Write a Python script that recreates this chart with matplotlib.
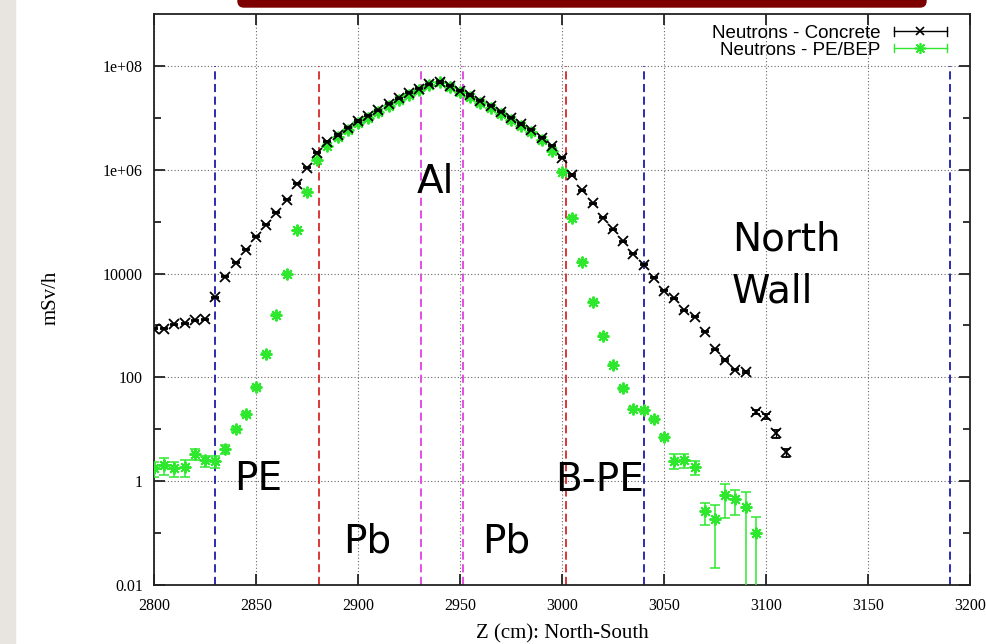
import numpy as np
import matplotlib
matplotlib.use('Agg')
import matplotlib.pyplot as plt
from matplotlib.lines import Line2D
from matplotlib.legend_handler import HandlerBase
from matplotlib.patches import FancyBboxPatch, Rectangle
from matplotlib.transforms import IdentityTransform
from matplotlib.ticker import FixedLocator, FixedFormatter

# Datos (mSv/h frente a Z en cm)
z_concreto = list(range(2800, 3115, 5))
dosis_concreto = [870, 870, 1050, 1100, 1260, 1320, 3470, 8700, 16200, 28800,
                  51300, 87100, 1.48e5, 2.63e5, 5.37e5, 1.10e6, 2.14e6, 3.47e6, 4.68e6, 6.46e6,
                  8.71e6, 1.10e7, 1.41e7, 1.86e7, 2.40e7, 3.02e7, 3.63e7, 4.47e7, 4.90e7, 4.17e7,
                  3.31e7, 2.75e7, 2.14e7, 1.70e7, 1.32e7, 1.00e7, 7.59e6, 5.89e6, 4.17e6, 2.88e6,
                  1.70e6, 7.94e5, 3.98e5, 2.24e5, 1.20e5, 70800, 41700, 24000, 14800, 8300,
                  4680, 3310, 1950, 1480, 760, 347, 214, 141, 126, 21.4,
                  17.8, 8.3, 3.6]
error_concreto = [30, 30, 35, 35, 40, 40, 100, 250, 450, 800,
                  1400, 2400, 4000, 7000, 14000, 28000, 55000, 9e4, 1.2e5, 1.6e5,
                  2.2e5, 2.8e5, 3.5e5, 4.6e5, 6e5, 7.5e5, 9e5, 1.1e6, 1.2e6, 1.0e6,
                  8.3e5, 6.9e5, 5.4e5, 4.3e5, 3.3e5, 2.5e5, 1.9e5, 1.5e5, 1.0e5, 7.2e4,
                  4.3e4, 2.0e4, 1.0e4, 5600, 3000, 1800, 1050, 600, 370, 210,
                  120, 85, 50, 40, 22, 10, 7, 5, 5, 2.0,
                  2.3, 1.5, 0.65]

z_pe = list(range(2800, 3100, 5))
dosis_pe = [1.78, 2.04, 1.78, 1.86, 3.31, 2.51, 2.40, 4.17, 10.0, 19.5,
            64.6, 288, 1620, 10000, 67600, 3.80e5, 1.55e6, 2.88e6, 4.2e6, 5.9e6,
            8.0e6, 1.0e7, 1.3e7, 1.7e7, 2.2e7, 2.8e7, 3.4e7, 4.3e7, 4.8e7, 4.0e7,
            3.1e7, 2.5e7, 1.95e7, 1.55e7, 1.2e7, 9.1e6, 6.9e6, 5.3e6, 3.7e6, 2.3e6,
            9.1e5, 1.2e5, 17000, 2880, 617, 170, 61.7, 25.1, 23.4, 15.5,
            7.1, 2.5, 2.6, 1.86, 0.263, 0.186, 0.537, 0.447, 0.316, 0.1]
error_pe = [0.6, 0.7, 0.6, 0.65, 0.8, 0.6, 0.6, 0.8, 1.2, 1.8,
            4, 12, 50, 250, 1500, 8000, 3e4, 6e4, 8e4, 1.1e5,
            1.5e5, 1.9e5, 2.4e5, 3.1e5, 4e5, 5e5, 6e5, 8e5, 9e5, 7.5e5,
            5.8e5, 4.7e5, 3.7e5, 2.9e5, 2.3e5, 1.7e5, 1.3e5, 1.0e5, 7e4, 4.5e4,
            2e4, 3000, 500, 100, 25, 8, 3.5, 1.7, 1.6, 1.1,
            0.6, 0.8, 0.8, 0.57, 0.12, 0.165, 0.34, 0.22, 0.31, 0.105]

# Limites de capas
limites_z = [2830, 2881, 2931, 2951.5, 3002, 3040, 3190]
colores_limites = ['#1c1ca8', '#d42a2a', '#e040e0', '#e040e0', '#d42a2a', '#1c1ca8', '#1c1ca8']

# Etiquetas de capas (texto, z, dosis)
etiquetas = [('Al', 2928.9, 3.6e5), ('PE', 2839.2, 0.67), ('B-PE', 2996.6, 0.645),
             ('Pb', 2892.6, 0.0431), ('Pb', 2960.8, 0.0431),
             ('North', 3083.3, 2.75e4), ('Wall', 3083.3, 2750)]

ticks_y = [1e-2, 1, 1e2, 1e4, 1e6, 1e8]
ticks_y_menores = [1e-1, 1e1, 1e3, 1e5, 1e7]
etiquetas_y = ['0.01', '1', '100', '10000', '1e+06', '1e+08']
ticks_x = list(range(2800, 3250, 50))

verde = '#2ee82e'


class HandlerGnuplot(HandlerBase):
    def __init__(self, color, marker, ms):
        super().__init__()
        self.color = color
        self.marker = marker
        self.ms = ms

    def create_artists(self, legend, orig_handle, xdescent, ydescent, width, height, fontsize, trans):
        y = (height - ydescent) / 2
        x0, x1 = -xdescent, width - xdescent
        linea = Line2D([x0, x1], [y, y], color=self.color, lw=1.0)
        marca = Line2D([(x0 + x1) / 2], [y], marker=self.marker, ms=self.ms, mew=1.2,
                       color=self.color, linestyle='none')
        cap1 = Line2D([x0, x0], [y - 3, y + 3], color=self.color, lw=1.0)
        cap2 = Line2D([x1, x1], [y - 3, y + 3], color=self.color, lw=1.0)
        for a in (linea, marca, cap1, cap2):
            a.set_transform(trans)
        return [linea, marca, cap1, cap2]


fig = plt.figure(figsize=(9.87, 6.44), dpi=100)
ax = fig.add_axes([154 / 987, 1 - 585 / 644, 816 / 987, 571 / 644])

# fondo
fig.add_artist(Rectangle((0, 0), 15, 644, transform=IdentityTransform(), color='#e8e5e0', zorder=0))
fig.add_artist(FancyBboxPatch((238, 644 - 7), 926 - 238, 40, boxstyle='round,pad=0,rounding_size=6',
                              transform=IdentityTransform(), color='#7d0000', zorder=5))

ax.vlines(limites_z, 0.01, 1e8, colors=colores_limites, linestyles=(0, (4.5, 2.5)), lw=1.3, zorder=2)

ax.errorbar(z_concreto, dosis_concreto, yerr=error_concreto, fmt='x', color='black', ms=7.5, mew=1.3,
            elinewidth=1.0, capsize=3, capthick=1.0, zorder=4)
ax.errorbar(z_pe, dosis_pe, yerr=error_pe, fmt='none', ecolor=verde,
            elinewidth=1.1, capsize=3.5, capthick=1.1, zorder=3)
ax.plot(z_pe, dosis_pe, linestyle='none', marker=(8, 2, 0), ms=8.5, mew=1.4, color=verde, zorder=3)

for texto, zx, dy in etiquetas:
    ax.text(zx, dy, texto, fontsize=28, family='DejaVu Sans', ha='left', va='baseline', zorder=6)

ax.set_yscale('log')
ax.set_xlim(2800, 3200)
ax.set_ylim(0.01, 1e9)
ax.yaxis.set_major_locator(FixedLocator(ticks_y))
ax.yaxis.set_major_formatter(FixedFormatter(etiquetas_y))
ax.yaxis.set_minor_locator(FixedLocator(ticks_y_menores))
ax.yaxis.set_minor_formatter(FixedFormatter([''] * len(ticks_y_menores)))
ax.set_xticks(ticks_x)
ax.set_xticklabels([str(t) for t in ticks_x])

ax.tick_params(which='both', direction='in', top=True, right=True, width=1.3, color='#222222')
ax.tick_params(which='major', length=8)
ax.tick_params(which='minor', length=5)
ax.tick_params(axis='x', pad=9)
ax.tick_params(axis='y', pad=8)
for lab in ax.get_xticklabels() + ax.get_yticklabels():
    lab.set_family('Liberation Serif')
    lab.set_fontsize(11.5)

ax.grid(True, which='major', linestyle=(0, (1, 2)), color='#666666', lw=0.8)
for s in ax.spines.values():
    s.set_linewidth(1.3)
    s.set_color('#222222')

fig.text(51 / 987, 1 - 298 / 644, 'mSv/h', rotation=90, ha='center', va='center',
         family='Liberation Serif', fontsize=15)
fig.text(562 / 987, 1 - 638 / 644, 'Z (cm): North-South', ha='center', va='baseline',
         family='Liberation Serif', fontsize=15)

h1 = Line2D([], [], color='black')
h2 = Line2D([], [], color=verde)
leg = ax.legend([h1, h2], ['Neutrons - Concrete', 'Neutrons - PE/BEP'],
                handler_map={h1: HandlerGnuplot('black', 'x', 6), h2: HandlerGnuplot(verde, (8, 2, 0), 8)},
                loc='upper right', bbox_to_anchor=(0.972, 0.981), borderaxespad=0, borderpad=0,
                frameon=False, markerfirst=False, handlelength=2.85, handletextpad=0.7,
                labelspacing=-0.03, prop={'family': 'Liberation Sans', 'size': 13.5})

fig.savefig('out.png', dpi=100)
